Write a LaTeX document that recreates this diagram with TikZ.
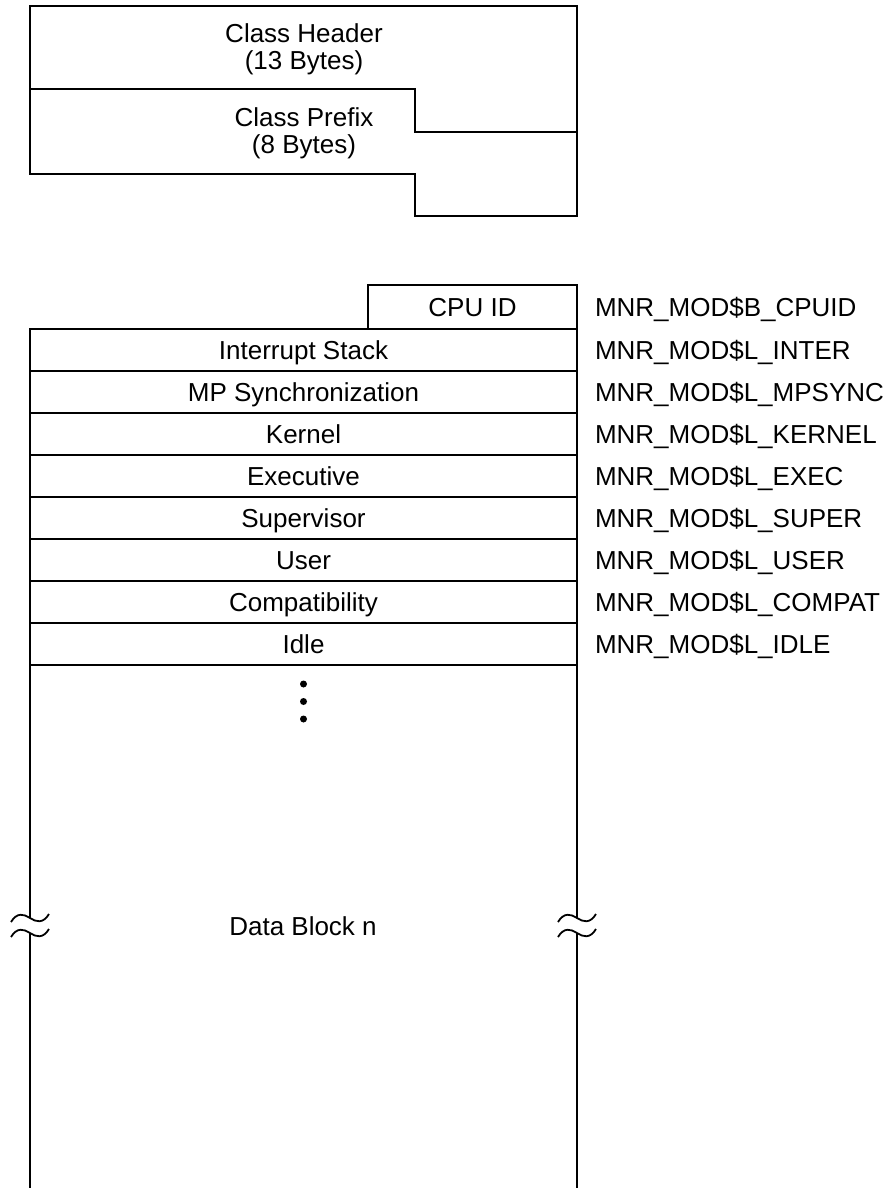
\documentclass[tikz,border=0pt]{standalone}
\usepackage{fontspec}
\setmainfont{Liberation Sans}
\begin{document}
\begin{tikzpicture}[x=1pt,y=-1pt,
  line width=2pt, line join=miter,
  txt/.style={font=\fontsize{26}{27}\selectfont, inner sep=0pt, text height=18.6pt, text depth=0pt},
  row/.style={draw, rectangle, minimum width=547pt, minimum height=42pt, inner sep=0pt, outer sep=0pt,
    font=\fontsize{26}{27}\selectfont, text height=18.6pt, text depth=0pt},
  lab/.style={anchor=west, inner sep=0pt, font=\fontsize{26}{27}\selectfont, text height=18.6pt, text depth=0pt},
  wavy/.style={line width=1.8pt},
  dotmark/.style={circle, fill, inner sep=0pt, minimum size=7pt}]
\useasboundingbox (0,0) rectangle (888,1188);

% ---- class header / prefix ----
\draw (30,6) -- (577,6) -- (577,216) -- (415,216) -- (415,174) -- (30,174) -- cycle;
\draw (30,89) -- (415,89) -- (415,132) -- (577,132);
\node[txt] (hdrA) at (304,33) {Class Header};
\node[txt] (hdrB) at (304,60) {(13 Bytes)};
\node[txt] (preA) at (304,117) {Class Prefix};
\node[txt] (preB) at (304,144) {(8 Bytes)};

% ---- CPU ID and rows ----
\node[row, minimum width=209pt, minimum height=44pt] (cpu) at (472.5,307) {CPU ID};
\node[row] (r1) at (303.5,350) {Interrupt Stack};
\node[row] (r2) at (303.5,392) {MP Synchronization};
\node[row] (r3) at (303.5,434) {Kernel};
\node[row] (r4) at (303.5,476) {Executive};
\node[row] (r5) at (303.5,518) {Supervisor};
\node[row] (r6) at (303.5,560) {User};
\node[row] (r7) at (303.5,602) {Compatibility};
\node[row] (r8) at (303.5,644) {Idle};

\node[lab] (l0) at (594,307) {MNR\_MOD\$B\_CPUID};
\node[lab] (l1) at (594,350) {MNR\_MOD\$L\_INTER};
\node[lab] (l2) at (594,392) {MNR\_MOD\$L\_MPSYNC};
\node[lab] (l3) at (594,434) {MNR\_MOD\$L\_KERNEL};
\node[lab] (l4) at (594,476) {MNR\_MOD\$L\_EXEC};
\node[lab] (l5) at (594,518) {MNR\_MOD\$L\_SUPER};
\node[lab] (l6) at (594,560) {MNR\_MOD\$L\_USER};
\node[lab] (l7) at (594,602) {MNR\_MOD\$L\_COMPAT};
\node[lab] (l8) at (594,644) {MNR\_MOD\$L\_IDLE};

% ---- continuation dots ----
\node[dotmark] (d1) at (303.5,684) {};
\node[dotmark] (d2) at (303.5,701.5) {};
\node[dotmark] (d3) at (303.5,719) {};

% ---- data block ----
\coordinate (Lt) at (30,918);
\coordinate (Lb) at (30,933);
\coordinate (Rt) at (577,918);
\coordinate (Rb) at (577,933);
\coordinate (Lend) at (30,1192);
\coordinate (Rend) at (577,1192);
\draw (r8.south west) -- (Lt);
\draw (Lb) -- (Lend);
\draw (r8.south east) -- (Rt);
\draw (Rb) -- (Rend);
\foreach \cx in {30,577}{
  \foreach \cy in {918,933}{
    \draw[wavy] (\cx-19,\cy+4) .. controls (\cx-13,\cy-6) and (\cx-6,\cy-4) .. (\cx,\cy)
                .. controls (\cx+6,\cy+4) and (\cx+13,\cy+6) .. (\cx+19,\cy-4);
  }
}
\node[txt] (data) at (303,926) {Data Block n};
\end{tikzpicture}
\end{document}
